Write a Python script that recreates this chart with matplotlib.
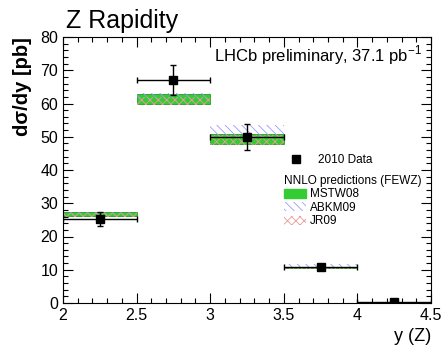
import matplotlib
matplotlib.use("Agg")
import matplotlib.pyplot as plt
from matplotlib.lines import Line2D
from matplotlib.patches import Patch
from matplotlib.ticker import MultipleLocator
import numpy as np

plt.rcParams["font.family"] = ["Liberation Sans", "DejaVu Sans"]
plt.rcParams["hatch.linewidth"] = 0.6

# rapidity bins
bin_lo = [2.0, 2.5, 3.0, 3.5, 4.0]
bin_hi = [2.5, 3.0, 3.5, 4.0, 4.5]

# 2010 data
data = [25.4, 67.1, 49.9, 10.8, 0.3]
data_err = [2.1, 4.6, 3.9, 0.8, 0.2]

# NNLO predictions (FEWZ), band edges
mstw_lo = [26.2, 59.9, 47.9, 10.4, 0.05]
mstw_hi = [27.4, 62.9, 50.9, 10.7, 0.25]
abkm_lo = [26.4, 60.6, 49.8, 10.8, 0.05]
abkm_hi = [27.5, 63.3, 53.6, 11.6, 0.25]
jr_lo = [25.9, 59.4, 47.6, 10.3, 0.05]
jr_hi = [27.1, 62.0, 50.5, 10.8, 0.25]

lo = np.array(bin_lo)
hi = np.array(bin_hi)
width = hi - lo
centre = (lo + hi) / 2

fig = plt.figure(figsize=(4.45, 3.48), dpi=100)
ax = fig.add_axes([63 / 445, 45 / 348, 368 / 445, 266 / 348])

green = "#33cc33"
ax.bar(lo, np.array(mstw_hi) - np.array(mstw_lo), bottom=mstw_lo, width=width,
       align="edge", color=green, edgecolor="#2a9a2a", linewidth=0.6)
ax.bar(lo, np.array(abkm_hi) - np.array(abkm_lo), bottom=abkm_lo, width=width,
       align="edge", facecolor="none", edgecolor="#9999ff", linewidth=0,
       hatch="\\\\\\\\")
ax.bar(lo, np.array(jr_hi) - np.array(jr_lo), bottom=jr_lo, width=width,
       align="edge", facecolor="none", edgecolor="#ee9999", linewidth=0,
       hatch="xxxx")

ax.errorbar(centre, data, yerr=data_err, xerr=width / 2, fmt="s", color="black",
            ms=6, elinewidth=1.0, capsize=2, capthick=1.0, zorder=5)

ax.set_xlim(2, 4.5)
ax.set_ylim(0, 80)
ax.xaxis.set_major_locator(MultipleLocator(0.5))
ax.xaxis.set_minor_locator(MultipleLocator(0.1))
ax.yaxis.set_major_locator(MultipleLocator(10))
ax.yaxis.set_minor_locator(MultipleLocator(2))
ax.set_xticks([2, 2.5, 3, 3.5, 4, 4.5])
ax.set_xticklabels(["2", "2.5", "3", "3.5", "4", "4.5"])
ax.tick_params(which="both", direction="in", top=True, right=True, labelsize=11.5)
ax.tick_params(which="major", length=7, width=0.8)
ax.tick_params(which="minor", length=3.5, width=0.8)

ax.set_xlabel("y (Z)", fontsize=13, loc="right", labelpad=4)
ax.set_ylabel("d\u03c3/dy [pb]", fontsize=14.5, fontweight="bold", loc="top", labelpad=6)

fig.text(66 / 445, 1 - 28 / 348, "Z Rapidity", fontsize=18, va="baseline", ha="left")
ax.text(0.975, 0.93, "LHCb preliminary, 37.1 pb$^{\\mathregular{-1}}$", transform=ax.transAxes,
        ha="right", va="center", fontsize=12)

leg1 = ax.legend(handles=[Line2D([], [], marker="s", color="black", ls="none", ms=6)],
                 labels=["2010 Data"], loc="upper left", bbox_to_anchor=(0.608, 0.561),
                 frameon=False, fontsize=8.5, handlelength=1.5, borderpad=0,
                 borderaxespad=0, handletextpad=1.15)
ax.add_artist(leg1)
handles = [Patch(facecolor=green, edgecolor=green),
           Patch(facecolor="none", edgecolor="#9999ff", linewidth=0, hatch="\\\\\\\\"),
           Patch(facecolor="none", edgecolor="#ee9999", linewidth=0, hatch="xxxx")]
ax.legend(handles=handles, labels=["MSTW08", "ABKM09", "JR09"],
          title="NNLO predictions (FEWZ)", title_fontsize=8.5, alignment="left",
          loc="upper left", bbox_to_anchor=(0.6005, 0.481), frameon=False,
          fontsize=8.5, handlelength=1.85, handleheight=0.8, borderpad=0,
          borderaxespad=0, labelspacing=0.12, handletextpad=0.35)

fig.savefig("out.png", dpi=100)
